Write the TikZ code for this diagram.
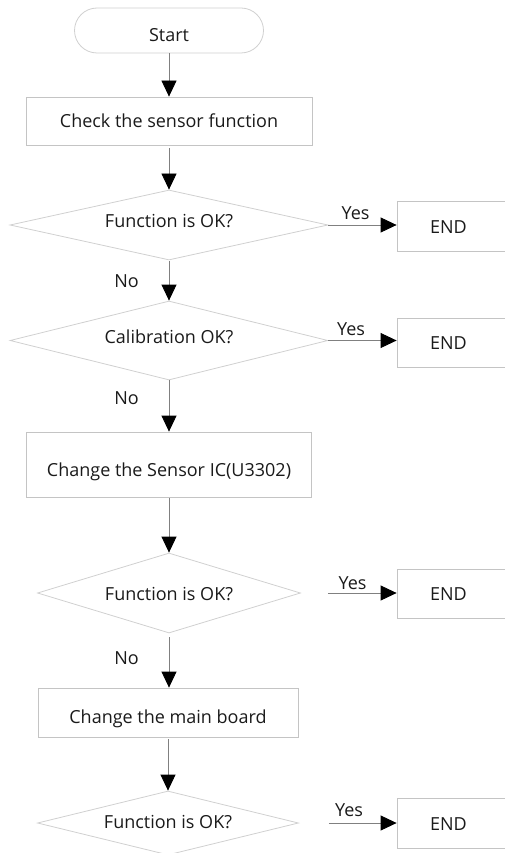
\documentclass[tikz,border=0pt]{standalone}
\usepackage{fontspec}
\setmainfont{Open Sans}
\usetikzlibrary{shapes.geometric,shapes.misc,arrows.meta}
\definecolor{boxgray}{HTML}{C4C4C4}
\definecolor{diagray}{HTML}{D0D0D0}
\definecolor{linegray}{HTML}{808080}
\definecolor{txt}{HTML}{1A1A1A}
\begin{document}
\begin{tikzpicture}[x=1pt,y=-1pt,
  every node/.style={font=\fontsize{18}{22}\selectfont, text=txt, inner sep=0pt, text depth=0pt, text height=12.9pt},
  proc/.style={draw=boxgray, line width=0.8pt, rectangle},
  endbox/.style={proc, minimum width=112pt},
  dec/.style={draw=diagray, line width=0.8pt, diamond, shape aspect=4.6},
  term/.style={draw=diagray, line width=0.8pt, rounded rectangle},
  flow/.style={draw=linegray, line width=0.8pt, -{Triangle[length=16pt,width=15pt,black]}},
  lbl/.style={}]
\useasboundingbox (0,0) rectangle (504,853);
% main column
\node[term, minimum width=189pt, minimum height=45pt, text height=21.9pt] (start) at (169,30.5) {Start};
\node[proc, minimum width=286pt, minimum height=48pt] (box1) at (169,121) {Check the sensor function};
\node[dec, minimum width=318pt, minimum height=70pt, text height=4.9pt] (d1) at (169,225) {Function is OK?};
\node[dec, minimum width=318pt, minimum height=79pt, text height=6.9pt] (d2) at (169,340.5) {Calibration OK?};
\node[proc, minimum width=285pt, minimum height=65pt, text height=24.9pt] (box3) at (169,464.5) {Change the Sensor IC(U3302)};
\node[dec, minimum width=263pt, minimum height=80pt, text height=14.9pt] (d3) at (169,593) {Function is OK?};
\node[proc, minimum width=260pt, minimum height=49pt, text height=21.9pt] (box4) at (168,712.5) {Change the main board};
\node[dec, minimum width=261pt, minimum height=64pt, text height=10.9pt] (d4) at (168,823) {Function is OK?};
% end boxes
\node[endbox, minimum height=50pt, text height=14.9pt] (end1) at (453,226) {\hspace*{-9pt}END};
\node[endbox, minimum height=49pt, text height=14.9pt] (end2) at (453,342.5) {\hspace*{-9pt}END};
\node[endbox, minimum height=49pt, text height=14.9pt] (end3) at (453,593.5) {\hspace*{-9pt}END};
\node[endbox, minimum height=50pt, text height=14.9pt] (end4) at (453,823) {\hspace*{-9pt}END};
% labels
\node[lbl] (no1) at (126.5,281) {No};
\node[lbl] (no2) at (126.5,398) {No};
\node[lbl] (no3) at (126.5,658.5) {No};
\node[lbl] (yes1) at (355.5,213.5) {Yes};
\node[lbl] (yes2) at (351,329) {Yes};
\node[lbl] (yes3) at (352.5,583.5) {Yes};
\node[lbl] (yes4) at (349,810) {Yes};
% vertical connectors
\draw[flow] (start.south) -- (box1.north);
\draw[flow, shorten <=3pt] (box1.south) -- (d1.north);
\draw[flow, shorten <=1pt] (d1.south) -- (d2.north);
\draw[flow] (d2.south) -- (box3.north);
\draw[flow, shorten <=1pt] (box3.south) -- (d3.north);
\draw[flow, shorten <=4pt] (d3.south) -- (d3.south |- box4.north);
\draw[flow, shorten <=2pt] (box4.south) -- (d4.north);
% horizontal connectors
\draw[flow] (d1.east) -- (d1.east -| end1.west);
\draw[flow] (d2.east) -- (d2.east -| end2.west);
\draw[flow, shorten <=27pt] (d3.east) -- (d3.east -| end3.west);
\draw[flow, shorten <=30pt] (d4.east) -- (d4.east -| end4.west);
\end{tikzpicture}
\end{document}
